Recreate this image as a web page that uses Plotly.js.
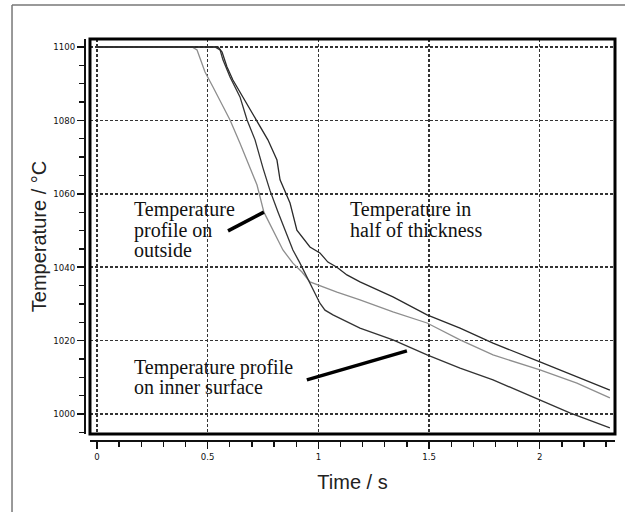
<!DOCTYPE html>
<html>
<head>
<meta charset="utf-8">
<script src="https://cdn.plot.ly/plotly-3.0.1.min.js"></script>
<style>html,body{margin:0;padding:0;background:#fff;}#chart{width:625px;height:512px;}</style>
</head>
<body>
<div id="chart"></div>
<script>
// Outside surface (grey)
var outsideTime = [0, 0.429, 0.452, 0.488, 0.524, 0.601, 0.646, 0.691, 0.723, 0.754, 0.795, 0.840, 0.885, 0.926, 0.962, 1.021, 1.084, 1.188, 1.337, 1.491, 1.640, 1.789, 2.001, 2.168, 2.317];
var outsideTemp = [1100, 1100, 1099.2, 1093.2, 1089.1, 1080.1, 1073.8, 1067.0, 1062.4, 1055.0, 1050.1, 1044.7, 1041.1, 1038.7, 1036.0, 1034.6, 1033.2, 1031.1, 1027.8, 1024.8, 1020.2, 1016.1, 1012.0, 1008.4, 1004.4];
// Inner surface (dark)
var innerTime = [0, 0.533, 0.556, 0.569, 0.601, 0.646, 0.678, 0.714, 0.750, 0.781, 0.818, 0.849, 0.885, 0.917, 0.949, 0.976, 1.007, 1.030, 1.066, 1.188, 1.337, 1.491, 1.640, 1.789, 2.001, 2.136, 2.317];
var innerTemp = [1100, 1100, 1099.2, 1096.5, 1091.8, 1086.4, 1080.1, 1074.7, 1067.0, 1061.0, 1055.0, 1050.1, 1044.7, 1041.1, 1037.3, 1033.8, 1030.2, 1028.3, 1027.0, 1023.4, 1020.2, 1016.1, 1012.5, 1009.3, 1003.8, 1000.3, 996.2];
// Half of thickness (dark)
var halfTime = [0, 0.547, 0.565, 0.587, 0.614, 0.659, 0.723, 0.772, 0.813, 0.827, 0.872, 0.903, 0.962, 1.007, 1.043, 1.084, 1.129, 1.188, 1.337, 1.491, 1.640, 1.789, 2.001, 2.168, 2.317];
var halfTemp = [1100, 1100, 1098.6, 1094.6, 1091.0, 1086.4, 1080.1, 1074.7, 1069.2, 1063.8, 1057.5, 1050.1, 1045.5, 1043.9, 1041.4, 1040.0, 1037.9, 1036.0, 1031.9, 1027.0, 1023.4, 1019.3, 1014.2, 1010.1, 1006.5];

var xTitle = "Time / s";
var yTitle = "Temperature / °C";

var traces = [
  {x: outsideTime, y: outsideTemp, mode: 'lines', line: {color: '#8e8e8e', width: 1.3}, hoverinfo: 'none'},
  {x: innerTime, y: innerTemp, mode: 'lines', line: {color: '#333333', width: 1.3}, hoverinfo: 'none'},
  {x: halfTime, y: halfTemp, mode: 'lines', line: {color: '#2a2a2a', width: 1.3}, hoverinfo: 'none'}
];

var tickFont = {family: 'Liberation Sans Narrow, DejaVu Sans Condensed, Arial Narrow, sans-serif', size: 9.5, color: '#111'};
var serif = {family: 'Liberation Serif, Times New Roman, serif', size: 20, color: '#111'};
var sans = {family: 'Liberation Sans, Arial, sans-serif', size: 20, color: '#222'};

function lab(text, x, y) {
  return {text: text, x: x, y: y, xref: 'x', yref: 'y', xanchor: 'left', yanchor: 'middle', showarrow: false, font: serif, borderpad: 0};
}

var layout = {
  width: 625, height: 512,
  margin: {l: 85, r: 10, t: 39, b: 71},
  paper_bgcolor: '#fff', plot_bgcolor: '#fff',
  showlegend: false,
  xaxis: {
    domain: [0.0094, 1], anchor: 'free', position: 0,
    range: [-0.0316, 2.340],
    tick0: 0, dtick: 0.5, ticks: 'outside', ticklen: 7, tickwidth: 1.5, tickcolor: '#111',
    minor: {dtick: 0.1, ticks: 'outside', ticklen: 5, tickwidth: 1.3, tickcolor: '#111', showgrid: false},
    showline: true, linecolor: '#111', linewidth: 2,
    showgrid: true, gridcolor: '#333', gridwidth: 1.5, griddash: '3px,2px',
    zeroline: false, tickfont: tickFont,
    title: {text: xTitle, font: sans, standoff: 13}
  },
  yaxis: {
    domain: [0.0174, 1], anchor: 'free', position: 0,
    range: [994.55, 1102.18],
    tick0: 1000, dtick: 20, ticks: 'outside', ticklen: 7, tickwidth: 1.5, tickcolor: '#111',
    minor: {dtick: 5, ticks: 'outside', ticklen: 5, tickwidth: 1.3, tickcolor: '#111', showgrid: false},
    showline: true, linecolor: '#111', linewidth: 2,
    showgrid: true, gridcolor: '#333', gridwidth: 1.5, griddash: '3px,2px',
    zeroline: false, tickfont: tickFont,
    title: {text: yTitle, font: sans, standoff: 0}
  },
  shapes: [
    {type: 'rect', xref: 'x domain', yref: 'y domain', x0: 0, x1: 1, y0: 0, y1: 1, line: {color: '#000', width: 3}},
    {type: 'line', xref: 'paper', yref: 'paper', x0: -0.1377, x1: 1.03, y0: 1.0846, y1: 1.0846, line: {color: '#777', width: 1.5}},
    {type: 'line', xref: 'paper', yref: 'paper', x0: -0.1377, x1: -0.1377, y0: 1.0846, y1: -0.19, line: {color: '#777', width: 1.5}},
    {type: 'line', xref: 'x', yref: 'y', x0: 0.592, y0: 1049.9, x1: 0.754, y1: 1055.0, line: {color: '#000', width: 3.5}},
    {type: 'line', xref: 'x', yref: 'y', x0: 0.948, y0: 1009.3, x1: 1.400, y1: 1017.2, line: {color: '#000', width: 3.5}}
  ],
  annotations: [
    lab('Temperature', 0.163, 1055.6),
    lab('profile on', 0.163, 1050.1),
    lab('outside', 0.163, 1044.7),
    lab('Temperature in', 1.138, 1055.6),
    lab('half of thickness', 1.138, 1050.1),
    lab('Temperature profile', 0.163, 1012.8),
    lab('on inner surface', 0.163, 1007.4)
  ]
};

Plotly.newPlot('chart', traces, layout, {staticPlot: true, displayModeBar: false});
</script>
</body>
</html>
